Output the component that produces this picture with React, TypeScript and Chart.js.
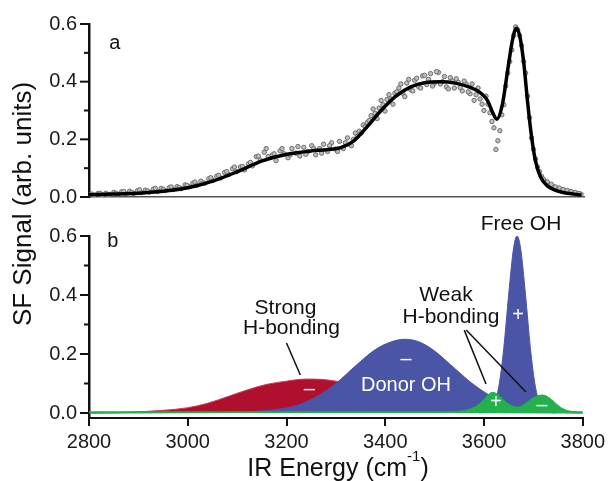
import React, { useEffect, useRef } from "react";
import { Chart, registerables } from "chart.js";
Chart.register(...registerables);

const FONT = '"Liberation Sans", Arial, Helvetica, sans-serif';

// ---------- Panel a: measured points and fit ----------
const fitX = [2800, 2850, 2900, 2950, 3000, 3050, 3100, 3150, 3200, 3250, 3280, 3310, 3335, 3360, 3390, 3420, 3450, 3480, 3510, 3540, 3570, 3590, 3605, 3615, 3624, 3635, 3645, 3655, 3663, 3670, 3678, 3686, 3694, 3702, 3712, 3725, 3740, 3760, 3780, 3795];
const fitY = [0.008, 0.010, 0.013, 0.020, 0.032, 0.055, 0.088, 0.125, 0.148, 0.160, 0.164, 0.172, 0.195, 0.240, 0.300, 0.350, 0.382, 0.397, 0.400, 0.395, 0.380, 0.362, 0.335, 0.295, 0.270, 0.320, 0.430, 0.540, 0.585, 0.560, 0.470, 0.330, 0.210, 0.125, 0.070, 0.040, 0.025, 0.015, 0.010, 0.007];

const rawX = [2802, 2810, 2818, 2826, 2834, 2842, 2850, 2858, 2866, 2874, 2882, 2890, 2898, 2906, 2914, 2922, 2930, 2938, 2946, 2954, 2962, 2970, 2978, 2986, 2994, 3002, 3010, 3018, 3026, 3034, 3042, 3050, 3058, 3066, 3074, 3082, 3090, 3098, 3106, 3114, 3122, 3130, 3138, 3146, 3154, 3162, 3170, 3178, 3186, 3194, 3202, 3210, 3218, 3226, 3234, 3242, 3250, 3258, 3266, 3274, 3282, 3290, 3298, 3306, 3314, 3322, 3330, 3338, 3346, 3354, 3362, 3370, 3378, 3386, 3394, 3402, 3410, 3418, 3426, 3434, 3442, 3450, 3458, 3466, 3474, 3482, 3490, 3498, 3506, 3514, 3522, 3530, 3538, 3546, 3554, 3562, 3570, 3578, 3586, 3594, 3602, 3610, 3618, 3626, 3634, 3642, 3650, 3658, 3666, 3674, 3682, 3690, 3698, 3706, 3714, 3722, 3730, 3738, 3746, 3754, 3762, 3770, 3778, 3786, 3794];
const rawY = [0.008, 0.006, 0.012, 0.007, 0.013, 0.009, 0.016, 0.010, 0.018, 0.012, 0.020, 0.013, 0.022, 0.015, 0.024, 0.017, 0.027, 0.019, 0.030, 0.022, 0.032, 0.026, 0.036, 0.029, 0.042, 0.036, 0.048, 0.041, 0.055, 0.048, 0.063, 0.057, 0.072, 0.066, 0.085, 0.078, 0.098, 0.088, 0.104, 0.094, 0.115, 0.108, 0.140, 0.128, 0.155, 0.140, 0.145, 0.126, 0.160, 0.150, 0.136, 0.168, 0.152, 0.142, 0.172, 0.158, 0.178, 0.146, 0.168, 0.183, 0.158, 0.188, 0.166, 0.193, 0.168, 0.205, 0.178, 0.222, 0.228, 0.250, 0.258, 0.282, 0.290, 0.308, 0.320, 0.338, 0.340, 0.360, 0.378, 0.360, 0.395, 0.372, 0.405, 0.382, 0.420, 0.390, 0.428, 0.395, 0.432, 0.400, 0.382, 0.414, 0.378, 0.398, 0.368, 0.392, 0.358, 0.335, 0.378, 0.322, 0.350, 0.292, 0.240, 0.195, 0.285, 0.385, 0.470, 0.560, 0.580, 0.525, 0.430, 0.275, 0.165, 0.104, 0.072, 0.054, 0.042, 0.036, 0.030, 0.025, 0.021, 0.018, 0.015, 0.012, 0.010];

const rawX2 = [2806, 2822, 2838, 2854, 2870, 2886, 2902, 2918, 2934, 2950, 2966, 2982, 2998, 3014, 3030, 3046, 3062, 3078, 3094, 3110, 3126, 3142, 3158, 3174, 3190, 3206, 3222, 3238, 3254, 3270, 3286, 3302, 3318, 3334, 3342, 3350, 3358, 3366, 3374, 3382, 3390, 3398, 3406, 3414, 3422, 3430, 3438, 3446, 3454, 3462, 3470, 3478, 3486, 3494, 3502, 3510, 3518, 3526, 3534, 3542, 3550, 3558, 3566, 3574, 3582, 3590, 3598, 3606, 3614, 3622, 3630, 3638, 3646, 3654, 3662, 3670, 3678, 3686, 3694, 3702, 3710, 3718, 3726, 3734, 3742, 3750, 3758, 3766, 3774, 3782, 3790];
const rawY2 = [0.010, 0.013, 0.008, 0.013, 0.019, 0.016, 0.025, 0.021, 0.030, 0.026, 0.035, 0.033, 0.040, 0.052, 0.048, 0.067, 0.075, 0.088, 0.104, 0.106, 0.120, 0.142, 0.168, 0.150, 0.168, 0.146, 0.175, 0.148, 0.168, 0.152, 0.178, 0.158, 0.188, 0.200, 0.210, 0.222, 0.243, 0.265, 0.305, 0.272, 0.335, 0.298, 0.355, 0.322, 0.365, 0.392, 0.348, 0.408, 0.368, 0.412, 0.378, 0.422, 0.408, 0.385, 0.435, 0.392, 0.418, 0.375, 0.402, 0.410, 0.380, 0.402, 0.365, 0.392, 0.355, 0.340, 0.300, 0.322, 0.262, 0.165, 0.230, 0.320, 0.430, 0.510, 0.590, 0.560, 0.470, 0.350, 0.205, 0.132, 0.088, 0.062, 0.052, 0.044, 0.035, 0.031, 0.026, 0.023, 0.019, 0.016, 0.012];

// ---------- Panel b: fitted components ----------
const strongX = [2800, 2860, 2900, 2950, 3000, 3040, 3080, 3120, 3160, 3200, 3240, 3270, 3300, 3340, 3380, 3420, 3460, 3500, 3540, 3580, 3640, 3800];
const strongY = [0, 0.001, 0.004, 0.009, 0.018, 0.033, 0.055, 0.078, 0.097, 0.108, 0.115, 0.114, 0.108, 0.095, 0.075, 0.052, 0.032, 0.017, 0.008, 0.003, 0.001, 0];

const donorX = [2800, 3000, 3100, 3140, 3180, 3220, 3260, 3300, 3340, 3380, 3410, 3440, 3470, 3500, 3540, 3580, 3620, 3660, 3700, 3740, 3800];
const donorY = [0, 0.001, 0.003, 0.006, 0.012, 0.025, 0.055, 0.100, 0.160, 0.215, 0.240, 0.250, 0.240, 0.210, 0.152, 0.095, 0.052, 0.024, 0.009, 0.003, 0];

const freeX = [3590, 3610, 3620, 3630, 3640, 3650, 3660, 3667, 3674, 3684, 3694, 3704, 3714, 3724, 3744];
const freeY = [0, 0.007, 0.028, 0.090, 0.219, 0.402, 0.560, 0.600, 0.560, 0.402, 0.219, 0.090, 0.028, 0.007, 0];

const weakX = [2800, 3500, 3540, 3560, 3575, 3590, 3600, 3610, 3617, 3625, 3635, 3645, 3655, 3667, 3677, 3687, 3697, 3707, 3717, 3727, 3737, 3747, 3757, 3767, 3780, 3800];
const weakY = [0.004, 0.004, 0.005, 0.008, 0.015, 0.030, 0.046, 0.064, 0.070, 0.066, 0.052, 0.036, 0.025, 0.020, 0.024, 0.036, 0.048, 0.057, 0.061, 0.057, 0.045, 0.030, 0.017, 0.009, 0.005, 0.004];

// ---------- Axes ----------
const yMinorMajor = [0, 0.1, 0.2, 0.3, 0.4, 0.5, 0.6];
const yLabelValues = [0, 0.2, 0.4, 0.6];
const xTickValues = [2800, 3000, 3200, 3400, 3600, 3800];

const BLUE = "#4b55a6";
const RED = "#b0102e";
const GREEN = "#22b14c";

const pts = (xs: number[], ys: number[]) => xs.map((x, i) => ({ x, y: ys[i] }));

const yTickMarks = {
  id: "yTickMarks",
  afterDraw(chart: any) {
    const s = chart.scales.y;
    const ctx = chart.ctx;
    const left = chart.chartArea.left;
    ctx.save();
    ctx.strokeStyle = "#111";
    ctx.lineWidth = 2;
    yMinorMajor.forEach((v, i) => {
      const p = s.getPixelForValue(v);
      const len = i % 2 === 0 ? 9 : 5;
      ctx.beginPath();
      ctx.moveTo(left - len, p);
      ctx.lineTo(left, p);
      ctx.stroke();
    });
    ctx.restore();
  },
};

function txt(ctx: any, s: string, x: number, y: number, size: number, color = "#111") {
  ctx.font = `${size}px ${FONT}`;
  ctx.fillStyle = color;
  ctx.textAlign = "center";
  ctx.textBaseline = "middle";
  ctx.fillText(s, x, y);
}

const labelsA = {
  id: "labelsA",
  afterDraw(chart: any) {
    const { ctx, scales } = chart;
    const X = (v: number) => scales.x.getPixelForValue(v);
    const Y = (v: number) => scales.y.getPixelForValue(v);
    ctx.save();
    txt(ctx, "a", X(2852), Y(0.534), 20);
    ctx.restore();
  },
};

const labelsB = {
  id: "labelsB",
  afterDraw(chart: any) {
    const { ctx, scales } = chart;
    const X = (v: number) => scales.x.getPixelForValue(v);
    const Y = (v: number) => scales.y.getPixelForValue(v);
    ctx.save();
    txt(ctx, "b", X(2848), Y(0.583), 20);
    txt(ctx, "Strong", X(3198), Y(0.356), 21);
    txt(ctx, "H-bonding", X(3210), Y(0.288), 21);
    txt(ctx, "Weak", X(3523), Y(0.40), 21);
    txt(ctx, "H-bonding", X(3533), Y(0.325), 21);
    txt(ctx, "Free OH", X(3675), Y(0.641), 21);
    txt(ctx, "Donor OH", X(3442), Y(0.092), 20, "#ffffff");
    txt(ctx, "\u2013", X(3442), Y(0.18), 20, "#ffffff");
    txt(ctx, "\u2013", X(3246), Y(0.081), 20, "#ffffff");
    txt(ctx, "+", X(3669), Y(0.332), 20, "#ffffff");
    txt(ctx, "+", X(3624), Y(0.034), 20, "#ffffff");
    txt(ctx, "\u2013", X(3717), Y(0.027), 20, "#ffffff");
    ctx.strokeStyle = "#111";
    ctx.lineWidth = 1.5;
    const seg = (x1: number, y1: number, x2: number, y2: number) => {
      ctx.beginPath();
      ctx.moveTo(X(x1), Y(y1));
      ctx.lineTo(X(x2), Y(y2));
      ctx.stroke();
    };
    seg(3200, 0.237, 3228, 0.129);
    seg(3560, 0.281, 3604, 0.098);
    seg(3564, 0.281, 3685, 0.071);

    // y-axis title (spans both panels)
    ctx.save();
    ctx.translate(24, 204);
    ctx.rotate(-Math.PI / 2);
    txt(ctx, "SF Signal (arb. units)", 0, 0, 26);
    ctx.restore();

    // x-axis title with superscript
    const main = "IR Energy (cm";
    const sup = "-1";
    const close = ")";
    ctx.font = `25px ${FONT}`;
    const w1 = ctx.measureText(main).width;
    const w3 = ctx.measureText(close).width;
    ctx.font = `15px ${FONT}`;
    const w2 = ctx.measureText(sup).width;
    const total = w1 + w2 + w3;
    const x0 = 338 - total / 2;
    const base = 476;
    ctx.fillStyle = "#111";
    ctx.textAlign = "left";
    ctx.textBaseline = "alphabetic";
    ctx.font = `25px ${FONT}`;
    ctx.fillText(main, x0, base);
    ctx.font = `15px ${FONT}`;
    ctx.fillText(sup, x0 + w1, base - 15);
    ctx.font = `25px ${FONT}`;
    ctx.fillText(close, x0 + w1 + w2, base);
    ctx.restore();
  },
};

export default function App() {
  const refA = useRef<HTMLCanvasElement>(null);
  const refB = useRef<HTMLCanvasElement>(null);

  useEffect(() => {
    const tickFont = { family: FONT, size: 20 };
    const yScale = (min: number) => ({
      type: "linear",
      min,
      max: 0.6,
      grid: { display: false, drawTicks: false },
      border: { display: true, color: "#111", width: 2.5 },
      afterBuildTicks: (s: any) => {
        s.ticks = yLabelValues.map((v) => ({ value: v }));
      },
      ticks: {
        padding: 12,
        color: "#1a1a1a",
        font: tickFont,
        callback: (v: any) => Number(v).toFixed(1),
      },
      afterFit: (s: any) => {
        s.width = 89;
      },
    });

    const chartA = new Chart(refA.current as HTMLCanvasElement, {
      type: "line",
      data: {
        datasets: [
          {
            data: pts(fitX, fitY),
            borderColor: "#000",
            borderWidth: 3.5,
            pointRadius: 0,
            cubicInterpolationMode: "monotone",
            fill: false,
            order: 0,
          },
          {
            data: pts(rawX, rawY).concat(pts(rawX2, rawY2)),
            showLine: false,
            pointRadius: 2.2,
            pointBorderWidth: 1,
            pointBorderColor: "#6e6e6e",
            pointBackgroundColor: "#bdbdbd",
            order: 1,
          },
        ],
      } as any,
      options: {
        responsive: false,
        animation: false,
        events: [],
        layout: { padding: { left: 0, right: 25, top: 23, bottom: 284 } },
        plugins: { legend: { display: false }, tooltip: { enabled: false } },
        scales: {
          x: {
            type: "linear",
            min: 2800,
            max: 3800,
            grid: { display: false, drawTicks: false },
            ticks: { display: false },
            border: { display: true, color: "#555", width: 1.5 },
            afterFit: (s: any) => {
              s.height = 0;
            },
          },
          y: yScale(0),
        },
      } as any,
      plugins: [yTickMarks, labelsA],
    });

    const area = (data: any, color: string, border: string, order: number) => ({
      data,
      fill: "origin",
      backgroundColor: color,
      borderColor: border,
      borderWidth: 1,
      pointRadius: 0,
      cubicInterpolationMode: "monotone",
      order,
    });

    const chartB = new Chart(refB.current as HTMLCanvasElement, {
      type: "line",
      data: {
        datasets: [
          area(pts(weakX, weakY), GREEN, GREEN, 0),
          area(pts(freeX, freeY), BLUE, BLUE, 1),
          area(pts(donorX, donorY), BLUE, BLUE, 2),
          area(pts(strongX, strongY), RED, "#c8405a", 3),
        ],
      } as any,
      options: {
        responsive: false,
        animation: false,
        events: [],
        layout: { padding: { left: 0, right: 25, top: 236, bottom: 33 } },
        plugins: { legend: { display: false }, tooltip: { enabled: false } },
        scales: {
          x: {
            type: "linear",
            min: 2800,
            max: 3800,
            grid: {
              display: true,
              drawOnChartArea: false,
              drawTicks: true,
              tickLength: 8,
              color: "#111",
              lineWidth: 2,
            },
            border: { display: true, color: "#111", width: 2 },
            afterBuildTicks: (s: any) => {
              s.ticks = xTickValues.map((v) => ({ value: v }));
            },
            ticks: {
              padding: 4,
              color: "#1a1a1a",
              font: tickFont,
              maxRotation: 0,
              autoSkip: false,
              callback: (v: any) => String(v),
            },
            afterFit: (s: any) => {
              s.height = 30;
            },
          },
          y: yScale(-0.017),
        },
      } as any,
      plugins: [yTickMarks, labelsB],
    });

    return () => {
      chartA.destroy();
      chartB.destroy();
    };
  }, []);

  const canvasStyle: React.CSSProperties = {
    position: "absolute",
    left: 0,
    top: 0,
    width: 609,
    height: 481,
    display: "block",
  };

  return (
    <div style={{ position: "fixed", left: 0, top: 0, width: 609, height: 481, background: "#fff" }}>
      <canvas ref={refA} width={609} height={481} style={canvasStyle} />
      <canvas ref={refB} width={609} height={481} style={canvasStyle} />
    </div>
  );
}
